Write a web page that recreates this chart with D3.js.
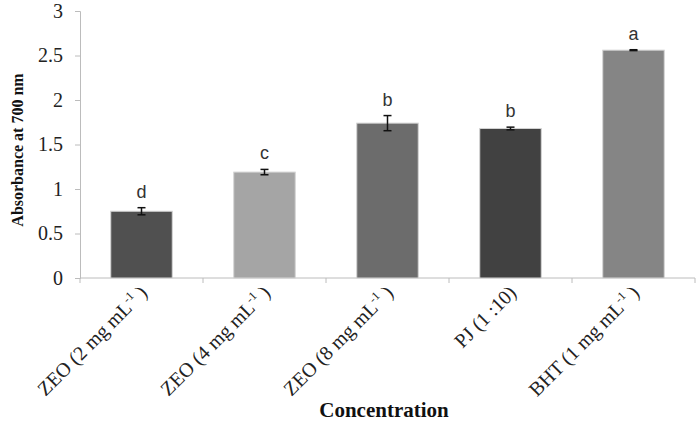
<!DOCTYPE html>
<html>
<head>
<meta charset="utf-8">
<script src="https://cdn.jsdelivr.net/npm/d3@7"></script>
<style>
  body { margin: 0; background: #fff; }
</style>
</head>
<body>
<script>
const width = 698;
const height = 428;
const margin = { top: 11, right: 3, bottom: 150, left: 80 };

// data
const categories = ['ZEO (2 mg mL', 'ZEO (4 mg mL', 'ZEO (8 mg mL', 'PJ (1 :10)', 'BHT (1 mg mL'];
const hasUnit = [true, true, true, false, true];
const values = [0.75, 1.19, 1.74, 1.68, 2.56];
const errors = [0.04, 0.03, 0.085, 0.015, 0.005];
const letters = ['d', 'c', 'b', 'b', 'a'];
const colors = ['#505050', '#a5a5a5', '#6c6c6c', '#414141', '#858585'];
const yTicks = [0, 0.5, 1, 1.5, 2, 2.5, 3];

const svg = d3.select('body')
    .append('svg')
    .attr('width', width)
    .attr('height', height);

const x = d3.scaleBand()
    .domain(categories)
    .range([margin.left, width - margin.right])
    .paddingInner(0.5)
    .paddingOuter(0.25);

const y = d3.scaleLinear()
    .domain([0, 3])
    .range([height - margin.bottom, margin.top]);

// y axis
const yAxis = svg.append('g')
    .attr('transform', `translate(${margin.left},0)`)
    .call(d3.axisLeft(y).tickValues(yTicks).tickSize(5).tickPadding(12)
        .tickFormat(d => d3.format('')(d)));
yAxis.selectAll('path, line').attr('stroke', '#bcbcbc');
yAxis.selectAll('text')
    .style('font-family', '"Liberation Serif", serif')
    .style('font-size', '20px')
    .attr('fill', '#222');

// x axis line and boundary ticks
const x0 = margin.left, x1 = width - margin.right, yb = y(0);
svg.append('line')
    .attr('x1', x0).attr('x2', x1)
    .attr('y1', yb).attr('y2', yb)
    .attr('stroke', '#bcbcbc');
const step = x.step();
d3.range(categories.length + 1).forEach(i => {
    const xx = x0 + i * step;
    svg.append('line')
        .attr('x1', xx).attr('x2', xx)
        .attr('y1', yb).attr('y2', yb + 5)
        .attr('stroke', '#bcbcbc');
});

// bars
svg.selectAll('rect.bar')
    .data(values)
    .enter()
    .append('rect')
    .attr('class', 'bar')
    .attr('x', (d, i) => x(categories[i]))
    .attr('y', d => y(d))
    .attr('width', x.bandwidth())
    .attr('height', d => y(0) - y(d))
    .attr('fill', (d, i) => colors[i])
    .attr('stroke', '#d4d4d4')
    .attr('stroke-width', 1);

// error bars
values.forEach((v, i) => {
    const cx = x(categories[i]) + x.bandwidth() / 2;
    const g = svg.append('g').attr('stroke', '#111').attr('stroke-width', 1.5);
    g.append('line').attr('x1', cx).attr('x2', cx)
        .attr('y1', y(v + errors[i])).attr('y2', y(v - errors[i]));
    g.append('line').attr('x1', cx - 4).attr('x2', cx + 4)
        .attr('y1', y(v + errors[i])).attr('y2', y(v + errors[i]));
    g.append('line').attr('x1', cx - 4).attr('x2', cx + 4)
        .attr('y1', y(v - errors[i])).attr('y2', y(v - errors[i]));

    svg.append('text')
        .attr('x', cx)
        .attr('y', y(v + errors[i]) - 10)
        .attr('text-anchor', 'middle')
        .style('font-family', '"Liberation Sans", sans-serif')
        .style('font-size', '18px')
        .attr('fill', '#333')
        .text(letters[i]);
});

// category labels, rotated
categories.forEach((c, i) => {
    const cx = x(categories[i]) + x.bandwidth() / 2 + 7;
    const t = svg.append('text')
        .attr('transform', `translate(${cx},${yb + 16}) rotate(-45)`)
        .attr('text-anchor', 'end')
        .style('font-family', '"Liberation Serif", serif')
        .style('font-size', '20px')
        .attr('fill', '#222');
    t.append('tspan').text(c);
    if (hasUnit[i]) {
        t.append('tspan').attr('dy', -8).style('font-size', '12px').text('-1');
        t.append('tspan').attr('dy', 8).text(' )');
    }
});

// axis titles
svg.append('text')
    .attr('x', 384)
    .attr('y', 417)
    .attr('text-anchor', 'middle')
    .style('font-family', '"Liberation Serif", serif')
    .style('font-weight', 'bold')
    .style('font-size', '21px')
    .attr('fill', '#111')
    .text('Concentration');

svg.append('text')
    .attr('transform', `translate(23,150) rotate(-90)`)
    .attr('text-anchor', 'middle')
    .style('font-family', '"Liberation Serif", serif')
    .style('font-weight', 'bold')
    .style('font-size', '16px')
    .attr('fill', '#111')
    .text('Absorbance at 700 nm');
</script>
</body>
</html>
